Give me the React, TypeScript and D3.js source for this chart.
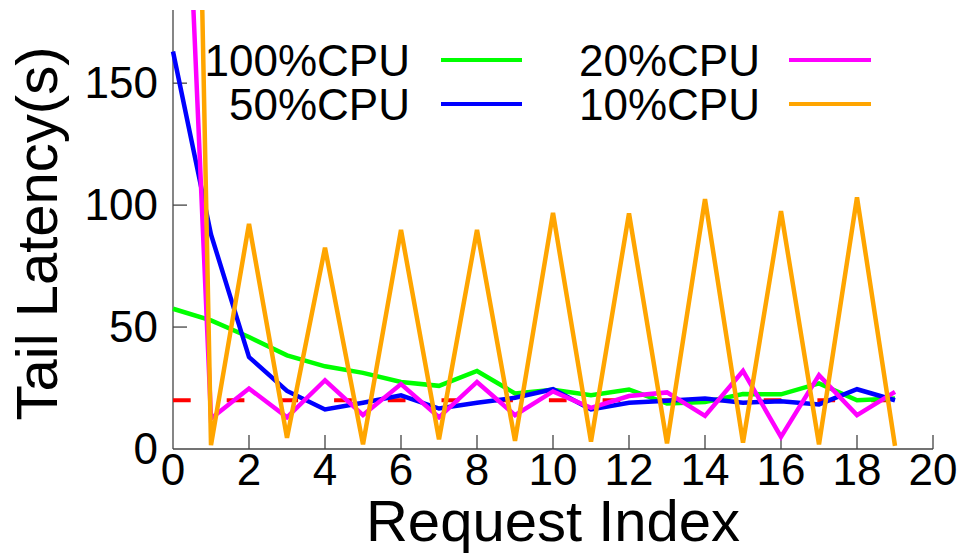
import React from "react";
import * as d3 from "d3";

const indices = d3.range(0, 20);
const cpu100 = [57.5, 52.7, 45.9, 38.4, 33.9, 31.2, 27.5, 25.9, 32, 22.8, 24.3, 22, 24.4, 18.7, 19.3, 22.5, 22.4, 26.9, 20, 20.7];
const cpu50 = [163, 88, 37.7, 23.8, 16.2, 19, 22, 16.6, 19, 21, 24.5, 16.2, 19, 19.8, 20.7, 19, 19.6, 18.3, 24.5, 20];
const cpu20 = [375, 12.5, 24.8, 13, 28.2, 13.9, 26.6, 13, 27.5, 13.9, 23.6, 16.9, 21.7, 23.2, 13.6, 32, 5, 30.3, 13.9, 23.4];
const cpu10 = [780, 1.6, 92.3, 4.6, 82.5, 1.9, 89.8, 4, 89.8, 3.3, 96.8, 3, 96.6, 2.3, 102.5, 2.6, 97.5, 1.9, 103.2, 1.3];
const sloValue = 20;
const sloRange = [0, 19];

const xTicks = d3.range(0, 21, 2);
const yTicks = [0, 50, 100, 150];

const seriesNames = ["100%CPU", "50%CPU", "20%CPU", "10%CPU"];
const seriesColors = ["#00ff00", "#0000ff", "#ff00ff", "#ffa500"];
const seriesData = [cpu100, cpu50, cpu20, cpu10];

const FONT = "'Liberation Sans', Arial, Helvetica, sans-serif";

export default function App() {
  const left = 173, right = 933, top = 10, bottom = 449;
  const x = d3.scaleLinear().domain([0, 20]).range([left, right]);
  const y = d3.scaleLinear().domain([0, 180]).range([bottom, top]);
  const line = d3
    .line<number>()
    .x((_, i) => x(indices[i]))
    .y((d) => y(d));

  const legendPos = [
    { tx: 410, ty: 76, lx0: 441, lx1: 522, ly: 60 },
    { tx: 410, ty: 120, lx0: 441, lx1: 522, ly: 104 },
    { tx: 760, ty: 76, lx0: 789, lx1: 871, ly: 60 },
    { tx: 760, ty: 120, lx0: 789, lx1: 871, ly: 104 },
  ];

  const axisColor = "#444";

  return (
    <svg
      width={966}
      height={555}
      style={{ position: "absolute", left: 0, top: 0, background: "#fff" }}
      fontFamily={FONT}
    >
      <defs>
        <clipPath id="plotClip">
          <rect x={left - 10} y={top} width={right - left + 20} height={bottom - top + 10} />
        </clipPath>
      </defs>
      <rect x={0} y={0} width={966} height={555} fill="#fff" />

      {/* axes */}
      <line x1={left} y1={top} x2={left} y2={bottom} stroke={axisColor} strokeWidth={1.3} />
      <line x1={left} y1={bottom} x2={right} y2={bottom} stroke={axisColor} strokeWidth={1.3} />
      {yTicks.map((t) => (
        <g key={"y" + t}>
          {t > 0 && (
            <line x1={left} x2={left + 14} y1={y(t)} y2={y(t)} stroke={axisColor} strokeWidth={1.3} />
          )}
          <text x={158} y={y(t) + 15} textAnchor="end" fontSize={44} fill="#000">
            {t}
          </text>
        </g>
      ))}
      {xTicks.map((t) => (
        <g key={"x" + t}>
          {t > 0 && (
            <line x1={x(t)} x2={x(t)} y1={bottom} y2={bottom - 14} stroke={axisColor} strokeWidth={1.3} />
          )}
          <text x={x(t)} y={485} textAnchor="middle" fontSize={44} fill="#000">
            {t}
          </text>
        </g>
      ))}

      {/* axis titles */}
      <text
        transform={`translate(57, ${(top + bottom) / 2 + 4}) rotate(-90)`}
        textAnchor="middle"
        fontSize={58}
        fill="#000"
      >
        Tail Latency(s)
      </text>
      <text x={(left + right) / 2} y={541} textAnchor="middle" fontSize={58} fill="#000">
        Request Index
      </text>

      {/* data */}
      <g clipPath="url(#plotClip)">
        <line
          x1={x(sloRange[0])}
          x2={x(sloRange[1])}
          y1={y(sloValue)}
          y2={y(sloValue)}
          stroke="#ff0000"
          strokeWidth={4}
          strokeDasharray="17.7 36"
        />
        {seriesData.map((s, i) => (
          <path
            key={seriesNames[i]}
            d={line(s) || ""}
            fill="none"
            stroke={seriesColors[i]}
            strokeWidth={4.5}
            strokeLinejoin="miter"
          />
        ))}
      </g>

      {/* legend */}
      {seriesNames.map((n, i) => {
        const p = legendPos[i];
        return (
          <g key={"leg" + n}>
            <text x={p.tx} y={p.ty} textAnchor="end" fontSize={44} fill="#000">
              {n}
            </text>
            <line x1={p.lx0} x2={p.lx1} y1={p.ly} y2={p.ly} stroke={seriesColors[i]} strokeWidth={4} />
          </g>
        );
      })}
    </svg>
  );
}
